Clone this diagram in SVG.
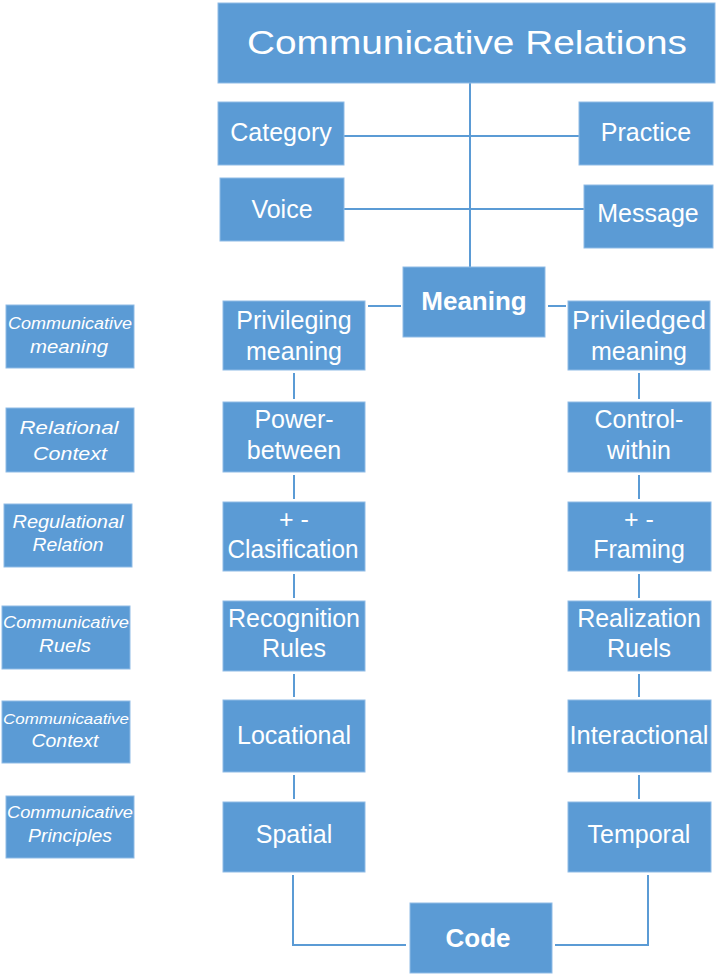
<svg xmlns="http://www.w3.org/2000/svg" width="716" height="975" viewBox="0 0 716 975">
  <style>
    .box { fill: #5b9bd5; stroke: #8fbbe6; stroke-width: 1; }
    .line { stroke: #5b9bd5; stroke-width: 2; fill: none; }
    .t { fill: #ffffff; font-family: "Liberation Sans", Arial, sans-serif; font-size: 25px; text-anchor: middle; dominant-baseline: central; }
    .b { font-weight: bold; font-size: 26px; }
    .lab { fill: #ffffff; font-family: "Liberation Sans", Arial, sans-serif; font-style: italic; font-size: 18px; text-anchor: middle; dominant-baseline: central; }
  </style>
  <rect width="716" height="975" fill="#ffffff"/>

  <!-- connectors -->
  <g id="connectors">
    <line class="line" x1="470" y1="83" x2="470" y2="267"/>
    <line class="line" x1="344" y1="136" x2="579" y2="136"/>
    <line class="line" x1="344" y1="209" x2="584" y2="209"/>
    <line class="line" x1="368" y1="306" x2="401" y2="306"/>
    <line class="line" x1="548" y1="306" x2="566" y2="306"/>
    <line class="line" x1="294" y1="373" x2="294" y2="399"/>
    <line class="line" x1="294" y1="475" x2="294" y2="499"/>
    <line class="line" x1="294" y1="574" x2="294" y2="598"/>
    <line class="line" x1="294" y1="674" x2="294" y2="697"/>
    <line class="line" x1="294" y1="775" x2="294" y2="799"/>
    <line class="line" x1="639" y1="373" x2="639" y2="399"/>
    <line class="line" x1="639" y1="475" x2="639" y2="499"/>
    <line class="line" x1="639" y1="574" x2="639" y2="598"/>
    <line class="line" x1="639" y1="674" x2="639" y2="697"/>
    <line class="line" x1="639" y1="775" x2="639" y2="799"/>
    <polyline class="line" points="293,875 293,945 406,945"/>
    <polyline class="line" points="648,875 648,945 555,945"/>
  </g>

  <!-- top of the hierarchy -->
  <g id="n-title">
    <rect class="box" x="218" y="3" width="497" height="80"/>
    <text class="t" x="467" y="42" style="font-size:34px" textLength="440" lengthAdjust="spacingAndGlyphs">Communicative Relations</text>
  </g>
  <g id="n-category">
    <rect class="box" x="218" y="102" width="126" height="63"/>
    <text class="t" x="281" y="132">Category</text>
  </g>
  <g id="n-practice">
    <rect class="box" x="579" y="102" width="134" height="63"/>
    <text class="t" x="646" y="132">Practice</text>
  </g>
  <g id="n-voice">
    <rect class="box" x="220" y="178" width="124" height="63"/>
    <text class="t" x="282" y="209">Voice</text>
  </g>
  <g id="n-message">
    <rect class="box" x="584" y="185" width="129" height="63"/>
    <text class="t" x="648" y="213">Message</text>
  </g>
  <g id="n-meaning">
    <rect class="box" x="403" y="267" width="142" height="70"/>
    <text class="t b" x="474" y="301">Meaning</text>
  </g>

  <!-- left branch -->
  <g id="n-privileging">
    <rect class="box" x="223" y="301" width="142" height="69"/>
    <text class="t" x="294" y="320">Privileging</text>
    <text class="t" x="294" y="351">meaning</text>
  </g>
  <g id="n-power">
    <rect class="box" x="223" y="402" width="142" height="70"/>
    <text class="t" x="294" y="419">Power-</text>
    <text class="t" x="294" y="450">between</text>
  </g>
  <g id="n-clasification">
    <rect class="box" x="223" y="502" width="142" height="69"/>
    <text class="t" x="294" y="519">+ -</text>
    <text class="t" x="293" y="549" textLength="131" lengthAdjust="spacingAndGlyphs">Clasification</text>
  </g>
  <g id="n-recognition">
    <rect class="box" x="223" y="601" width="142" height="70"/>
    <text class="t" x="294" y="618">Recognition</text>
    <text class="t" x="294" y="648">Rules</text>
  </g>
  <g id="n-locational">
    <rect class="box" x="223" y="700" width="142" height="72"/>
    <text class="t" x="294" y="735">Locational</text>
  </g>
  <g id="n-spatial">
    <rect class="box" x="223" y="802" width="142" height="70"/>
    <text class="t" x="294" y="834">Spatial</text>
  </g>

  <!-- right branch -->
  <g id="n-priviledged">
    <rect class="box" x="568" y="301" width="142" height="69"/>
    <text class="t" x="639" y="320" textLength="134" lengthAdjust="spacingAndGlyphs">Priviledged</text>
    <text class="t" x="639" y="351">meaning</text>
  </g>
  <g id="n-control">
    <rect class="box" x="568" y="402" width="143" height="70"/>
    <text class="t" x="639" y="419">Control-</text>
    <text class="t" x="639" y="450">within</text>
  </g>
  <g id="n-framing">
    <rect class="box" x="568" y="502" width="143" height="69"/>
    <text class="t" x="639" y="519">+ -</text>
    <text class="t" x="639" y="549">Framing</text>
  </g>
  <g id="n-realization">
    <rect class="box" x="568" y="601" width="143" height="70"/>
    <text class="t" x="639" y="618">Realization</text>
    <text class="t" x="639" y="648">Ruels</text>
  </g>
  <g id="n-interactional">
    <rect class="box" x="568" y="700" width="143" height="72"/>
    <text class="t" x="639" y="735" textLength="139" lengthAdjust="spacingAndGlyphs">Interactional</text>
  </g>
  <g id="n-temporal">
    <rect class="box" x="568" y="802" width="143" height="70"/>
    <text class="t" x="639" y="834">Temporal</text>
  </g>

  <!-- bottom -->
  <g id="n-code">
    <rect class="box" x="410" y="903" width="142" height="70"/>
    <text class="t b" x="478" y="938">Code</text>
  </g>

  <!-- row labels -->
  <g id="l-meaning">
    <rect class="box" x="6" y="305" width="128" height="63"/>
    <text class="lab" x="70" y="323" style="font-size:16px" textLength="124" lengthAdjust="spacingAndGlyphs">Communicative</text>
    <text class="lab" x="69" y="347" textLength="78" lengthAdjust="spacingAndGlyphs">meaning</text>
  </g>
  <g id="l-relational">
    <rect class="box" x="6" y="408" width="128" height="64"/>
    <text class="lab" x="69" y="428" textLength="99" lengthAdjust="spacingAndGlyphs">Relational</text>
    <text class="lab" x="70" y="454" textLength="74" lengthAdjust="spacingAndGlyphs">Context</text>
  </g>
  <g id="l-regulational">
    <rect class="box" x="4" y="504" width="128" height="63"/>
    <text class="lab" x="68" y="522" textLength="111" lengthAdjust="spacingAndGlyphs">Regulational</text>
    <text class="lab" x="68" y="545" textLength="71" lengthAdjust="spacingAndGlyphs">Relation</text>
  </g>
  <g id="l-rules">
    <rect class="box" x="2" y="606" width="128" height="63"/>
    <text class="lab" x="66" y="622" style="font-size:16px" textLength="126" lengthAdjust="spacingAndGlyphs">Communicative</text>
    <text class="lab" x="65" y="646" textLength="52" lengthAdjust="spacingAndGlyphs">Ruels</text>
  </g>
  <g id="l-context">
    <rect class="box" x="2" y="701" width="128" height="62"/>
    <text class="lab" x="66" y="718" style="font-size:15px" textLength="126" lengthAdjust="spacingAndGlyphs">Communicaative</text>
    <text class="lab" x="65" y="741" textLength="67" lengthAdjust="spacingAndGlyphs">Context</text>
  </g>
  <g id="l-principles">
    <rect class="box" x="6" y="796" width="128" height="62"/>
    <text class="lab" x="70" y="812" style="font-size:16px" textLength="126" lengthAdjust="spacingAndGlyphs">Communicative</text>
    <text class="lab" x="70" y="836" textLength="84" lengthAdjust="spacingAndGlyphs">Principles</text>
  </g>
</svg>
